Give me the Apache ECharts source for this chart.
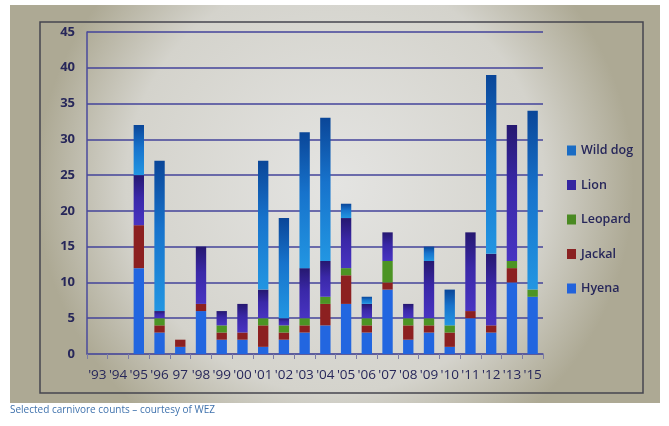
<!DOCTYPE html>
<html>
<head>
<meta charset="utf-8">
<script src="https://cdn.jsdelivr.net/npm/echarts@6/dist/echarts.min.js"></script>
<style>
html,body{margin:0;padding:0;background:#fff;}
#c{width:669px;height:426px;}
</style>
</head>
<body>
<div id="c"></div>
<script>
var categories = ["'93","'94","'95","'96","97","'98","'99","'00","'01","'02","'03","'04","'05","'06","'07","'08","'09","'10","'11","'12","'13","'15"];
var hyena   = [0,0,12,3,1,6,2,2,1,2,3,4,7,3,9,2,3,1,5,3,10,8];
var jackal  = [0,0,6,1,1,1,1,1,3,1,1,3,4,1,1,2,1,2,1,1,2,0];
var leopard = [0,0,0,1,0,0,1,0,1,1,1,1,1,1,3,1,1,1,0,0,1,1];
var lion    = [0,0,7,1,0,8,2,4,4,1,7,5,7,2,4,2,8,0,11,10,19,0];
var wildDog = [0,0,7,21,0,0,0,0,18,14,19,20,2,1,0,0,2,5,0,25,0,25];
var yTicks = {min:0, max:45, interval:5};
var caption = 'Selected carnivore counts \u2013 courtesy of WEZ';

var chart = echarts.init(document.getElementById('c'));
function grad(top, mid, bottom){
  return new echarts.graphic.LinearGradient(0,0,0,1,[{offset:0,color:top},{offset:0.45,color:mid},{offset:1,color:bottom}]);
}
var txt = '#27275a';
var font = 'Open Sans';
function bar(name, data, color){
  return {name:name, type:'bar', stack:'all', data:data, barWidth:'50%',
    itemStyle:{color:color}, emphasis:{disabled:true}};
}
chart.setOption({
  animation:false,
  graphic:[
    {type:'rect', z:-10, shape:{x:10,y:5,width:650,height:398},
      style:{fill:new echarts.graphic.RadialGradient(0.5,0.45,0.75,[{offset:0,color:'#e4e4e2'},{offset:0.7,color:'#d4d3cc'},{offset:1,color:'#ada994'}])}},
    {type:'rect', z:-9, shape:{x:40,y:22,width:603,height:371},
      style:{fill:'none', stroke:'#45454f', lineWidth:1.5}},
    {type:'text', left:10, top:405, style:{text:caption, fill:'#3f72ad', font:'10px "Open Sans"'}}
  ],
  grid:{left:87, right:126, top:32, bottom:72},
  legend:{
    orient:'vertical', left:562, top:139, itemWidth:9, itemHeight:10, itemGap:21.5,
    icon:'rect',
    textStyle:{color:txt, fontFamily:font, fontWeight:600, fontSize:12.5},
    data:[
      {name:'Wild dog', itemStyle:{color:'#1a6cc4'}},
      {name:'Lion', itemStyle:{color:'#3526a0'}},
      {name:'Leopard', itemStyle:{color:'#4a8a22'}},
      {name:'Jackal', itemStyle:{color:'#8a2222'}},
      {name:'Hyena', itemStyle:{color:'#2263dc'}}
    ]
  },
  xAxis:{
    type:'category', data:categories,
    axisLine:{lineStyle:{color:'#5a5a9a', width:1.5}},
    axisTick:{show:true, lineStyle:{color:'#7a7aa6'}},
    axisLabel:{color:txt, fontFamily:font, fontSize:13.5, fontWeight:500, margin:14, interval:0}
  },
  yAxis:{
    type:'value', min:yTicks.min, max:yTicks.max, interval:yTicks.interval,
    axisLine:{show:true, lineStyle:{color:'#4a4a9c', width:1.5}},
    axisTick:{show:false},
    splitLine:{lineStyle:{color:'#43439a', width:1.5}},
    axisLabel:{color:txt, fontFamily:font, fontSize:13, fontWeight:700, margin:12}
  },
  series:[
    bar('Hyena', hyena, '#2266e0'),
    bar('Jackal', jackal, '#8c2020'),
    bar('Leopard', leopard, '#4c9424'),
    bar('Lion', lion, grad('#261870','#3a28a8','#4834c2')),
    bar('Wild dog', wildDog, grad('#0a4698','#1773cc','#2296e2'))
  ]
});
</script>
</body>
</html>
